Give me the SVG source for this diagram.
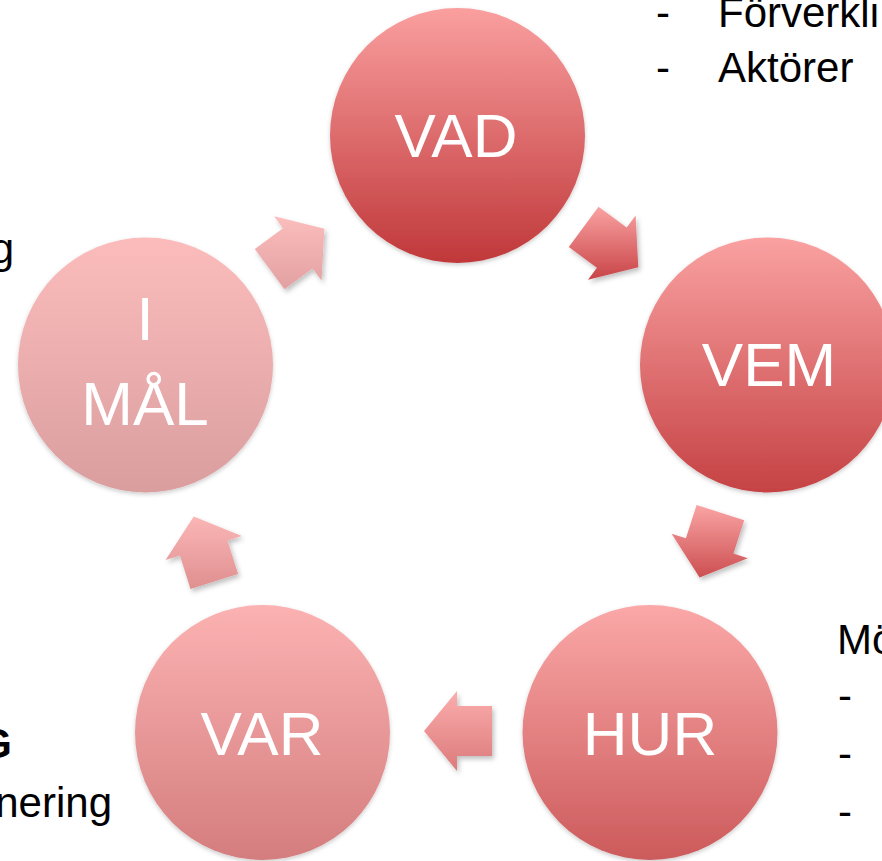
<svg xmlns="http://www.w3.org/2000/svg" width="882" height="861" viewBox="0 0 882 861">
<defs>
<linearGradient id="gVAD" x1="0" y1="0" x2="0" y2="1"><stop offset="0" stop-color="#fa9f9f"/><stop offset="1" stop-color="#c0383a"/></linearGradient>
<linearGradient id="gVEM" x1="0" y1="0" x2="0" y2="1"><stop offset="0" stop-color="#faa1a1"/><stop offset="1" stop-color="#c54244"/></linearGradient>
<linearGradient id="gHUR" x1="0" y1="0" x2="0" y2="1"><stop offset="0" stop-color="#fba8a8"/><stop offset="1" stop-color="#cc5a5b"/></linearGradient>
<linearGradient id="gVAR" x1="0" y1="0" x2="0" y2="1"><stop offset="0" stop-color="#fcb2b2"/><stop offset="1" stop-color="#d47d7e"/></linearGradient>
<linearGradient id="gMAL" x1="0" y1="0" x2="0" y2="1"><stop offset="0" stop-color="#fcbcbc"/><stop offset="1" stop-color="#da9e9f"/></linearGradient>
<linearGradient id="a1" x1="0" y1="0" x2="0" y2="1"><stop offset="0" stop-color="#faa2a2"/><stop offset="1" stop-color="#c84447"/></linearGradient>
<linearGradient id="a2" x1="0" y1="0" x2="0" y2="1"><stop offset="0" stop-color="#faa4a4"/><stop offset="1" stop-color="#cc4f51"/></linearGradient>
<linearGradient id="a3" x1="0" y1="0" x2="0" y2="1"><stop offset="0" stop-color="#fbadad"/><stop offset="1" stop-color="#dc7a7b"/></linearGradient>
<linearGradient id="a4" x1="0" y1="0" x2="0" y2="1"><stop offset="0" stop-color="#fbb6b6"/><stop offset="1" stop-color="#df8f90"/></linearGradient>
<linearGradient id="a5" x1="0" y1="0" x2="0" y2="1"><stop offset="0" stop-color="#fcbdbd"/><stop offset="1" stop-color="#e2a0a1"/></linearGradient>
<filter id="sh" x="-20%" y="-20%" width="150%" height="150%"><feDropShadow dx="2" dy="3" stdDeviation="2.5" flood-color="#000" flood-opacity="0.25"/></filter>
<filter id="csh" x="-10%" y="-10%" width="125%" height="125%"><feDropShadow dx="0" dy="2" stdDeviation="2" flood-color="#000" flood-opacity="0.2"/></filter>
</defs>
<style>
.lbl{font-family:"Liberation Sans",Arial,sans-serif;font-size:62px;fill:#ffffff;text-anchor:middle}
.side{font-family:"Liberation Sans",Arial,sans-serif;font-size:42px;fill:#000000}
.node circle{filter:url(#csh)}
.arr{filter:url(#sh)}
</style>
<rect width="882" height="861" fill="#ffffff"/>
<g id="connectors">
<polygon class="arr" fill="url(#a1)" points="598.5,206.7 626.7,227.5 635.6,215.4 638.3,267.2 588.0,279.8 596.9,267.7 568.8,246.9"/>
<polygon class="arr" fill="url(#a2)" points="744.2,520.3 733.5,553.6 747.8,558.2 699.6,577.4 671.6,533.7 685.9,538.3 696.6,505.0"/>
<polygon class="arr" fill="url(#a3)" points="492,756 457,756 457,771 424,731 457,691 457,706 492,706"/>
<polygon class="arr" fill="url(#a4)" points="190.5,589.0 179.9,555.6 165.6,560.1 193.7,516.6 241.8,536.0 227.5,540.5 238.1,573.9"/>
<polygon class="arr" fill="url(#a5)" points="254.8,249.1 283.0,228.3 274.1,216.2 324.4,228.8 321.5,280.6 312.6,268.5 284.5,289.3"/>
</g>
<g id="node-vad" class="node">
<circle cx="457.5" cy="135.5" r="127.5" fill="url(#gVAD)"/>
<text class="lbl" x="456" y="157">VAD</text>
</g>
<g id="node-vem" class="node">
<circle cx="767.5" cy="365" r="127.5" fill="url(#gVEM)"/>
<text class="lbl" x="769" y="386">VEM</text>
</g>
<g id="node-hur" class="node">
<circle cx="650" cy="732.5" r="127.5" fill="url(#gHUR)"/>
<text class="lbl" x="650" y="755">HUR</text>
</g>
<g id="node-var" class="node">
<circle cx="262.5" cy="732.5" r="127.5" fill="url(#gVAR)"/>
<text class="lbl" x="262" y="755">VAR</text>
</g>
<g id="node-imal" class="node">
<circle cx="145.5" cy="365" r="127.5" fill="url(#gMAL)"/>
<text class="lbl" x="145" y="340">I</text>
<text class="lbl" x="145" y="425">MÅL</text>
</g>
<g id="text-top-right">
<text class="side" x="656" y="27">-</text>
<text class="side" x="718" y="27">Förverkli</text>
<text class="side" x="656" y="82">-</text>
<text class="side" x="718" y="82">Aktörer</text>
</g>
<g id="text-left">
<text class="side" x="14" y="263" text-anchor="end">g</text>
<text class="side" x="12" y="758" text-anchor="end" font-weight="bold">G</text>
<text class="side" x="112" y="817" text-anchor="end">nering</text>
</g>
<g id="text-bottom-right">
<text class="side" x="837" y="654">Mö</text>
<text class="side" x="838" y="710">-</text>
<text class="side" x="838" y="768">-</text>
<text class="side" x="838" y="826">-</text>
</g>
</svg>
